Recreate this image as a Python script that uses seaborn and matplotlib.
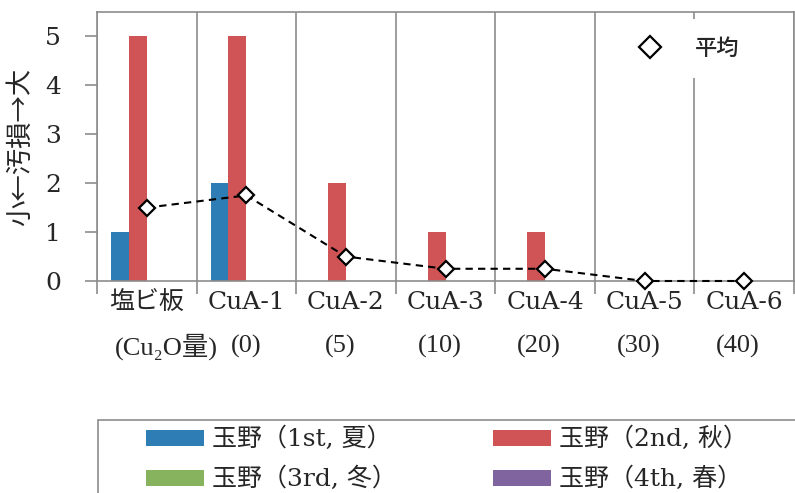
import matplotlib
matplotlib.use("Agg")
import matplotlib.pyplot as plt
import matplotlib.transforms as mtransforms
from matplotlib.patches import Patch, Rectangle
from matplotlib.lines import Line2D
import pandas as pd
import seaborn as sns

# data
categories = ["塩ビ板", "CuA-1", "CuA-2", "CuA-3", "CuA-4", "CuA-5", "CuA-6"]
cu2o_labels = ["(Cu₂O量)", "(0)", "(5)", "(10)", "(20)", "(30)", "(40)"]
series = ["玉野（1st, 夏）", "玉野（2nd, 秋）", "玉野（3rd, 冬）", "玉野（4th, 春）"]
summer = [1, 2, 0, 0, 0, 0, 0]
autumn = [5, 5, 2, 1, 1, 0, 0]
winter = [0, 0, 0, 0, 0, 0, 0]
spring = [0, 0, 0, 0, 0, 0, 0]
average = [1.5, 1.75, 0.5, 0.25, 0.25, 0, 0]

colors = ["#2e7db5", "#d05456", "#88b35e", "#8064a0"]
GRAY = "#8c8c8c"
CJK = "Noto Sans CJK JP"

sns.set_style("white")
plt.rcParams["font.family"] = ["DejaVu Serif", CJK]

rows = []
for name, vals in zip(series, [summer, autumn, winter, spring]):
    for cat, v in zip(categories, vals):
        rows.append({"cat": cat, "series": name, "value": v})
df = pd.DataFrame(rows)

fig = plt.figure(figsize=(7.95, 4.93), dpi=100)
ax = fig.add_axes([97 / 795, 1 - 281 / 493, 697 / 795, 269 / 493])

sns.barplot(data=df, x="cat", y="value", hue="series", order=categories,
            hue_order=series, palette=colors, width=0.72, gap=0,
            saturation=1, errorbar=None, legend=False, linewidth=0,
            edgecolor="none", ax=ax)

xs = list(range(len(categories)))
ax.plot(xs, average, linestyle=(0, (3.5, 2.5)), color="black", lw=1.5,
        marker="D", markersize=8, markerfacecolor="white",
        markeredgecolor="black", markeredgewidth=1.6, zorder=5,
        clip_on=False)

ax.set_xlim(-0.5, len(categories) - 0.5)
ax.set_ylim(0, 5.5)
ax.set_yticks(range(6))
ax.set_xlabel("")
ax.set_ylabel("小←汚損→大", family=[CJK], fontsize=19)
ax.yaxis.set_label_coords(-0.09, 0.5)

# category boundaries as minor ticks with grid
bounds = [i - 0.5 for i in range(len(categories) + 1)]
ax.set_xticks(bounds, minor=True)
ax.grid(False)
ax.grid(True, axis="x", which="minor", color=GRAY, lw=1.2)
ax.tick_params(axis="x", which="major", length=0, pad=7, labelsize=18)
ax.tick_params(axis="x", which="minor", length=9, width=1.2, color=GRAY,
               direction="out", bottom=True)
ax.tick_params(axis="y", length=9, width=1.2, color=GRAY, direction="out",
               left=True, pad=17, labelsize=18)
for s in ax.spines.values():
    s.set_color(GRAY)
    s.set_linewidth(1.2)
    s.set_visible(True)

# second row of labels (Cu2O amount)
trans = mtransforms.blended_transform_factory(ax.transData, ax.transAxes)
offsets = [0.2, 0.0, -0.06, -0.06, -0.06, -0.06, -0.06]
for i, (lab, off) in enumerate(zip(cu2o_labels, offsets)):
    ax.text(i + off, -0.245, lab, transform=trans, ha="center", va="center",
            fontsize=19, family=["Liberation Serif", "DejaVu Serif", CJK])

# average legend inside plot
avg_handle = Line2D([], [], linestyle="none", marker="D", markersize=11,
                    markerfacecolor="white", markeredgecolor="black",
                    markeredgewidth=1.6)
leg_avg = ax.legend([avg_handle], ["平均"], loc="center",
                    bbox_to_anchor=(0.848, 0.865), frameon=True,
                    prop={"family": [CJK], "size": 16, "weight": "medium"},
                    handlelength=1.2, handletextpad=1.4, borderpad=0.8,
                    fancybox=False)
leg_avg.get_frame().set_facecolor("white")
leg_avg.get_frame().set_edgecolor("none")
leg_avg.get_frame().set_alpha(1)

# bottom legend: a frame plus two columns
fig.patches.append(Rectangle((98 / 795, -0.2), 0.9, 1 - 420 / 493 + 0.2,
                             transform=fig.transFigure, fill=False,
                             edgecolor=GRAY, lw=1.2))
handles = [Patch(facecolor=c, edgecolor="none") for c in colors]
leg_kw = dict(loc="upper left", frameon=False, borderpad=0, borderaxespad=0,
              handlelength=2.3, handleheight=0.6, handletextpad=0.35,
              labelspacing=0.62, fontsize=18)
fig.legend([handles[0], handles[2]], [series[0], series[2]],
           bbox_to_anchor=(146 / 795, 1 - 427 / 493), **leg_kw)
fig.legend([handles[1], handles[3]], [series[1], series[3]],
           bbox_to_anchor=(493 / 795, 1 - 427 / 493), **leg_kw)

fig.savefig("out.png", dpi=100)
